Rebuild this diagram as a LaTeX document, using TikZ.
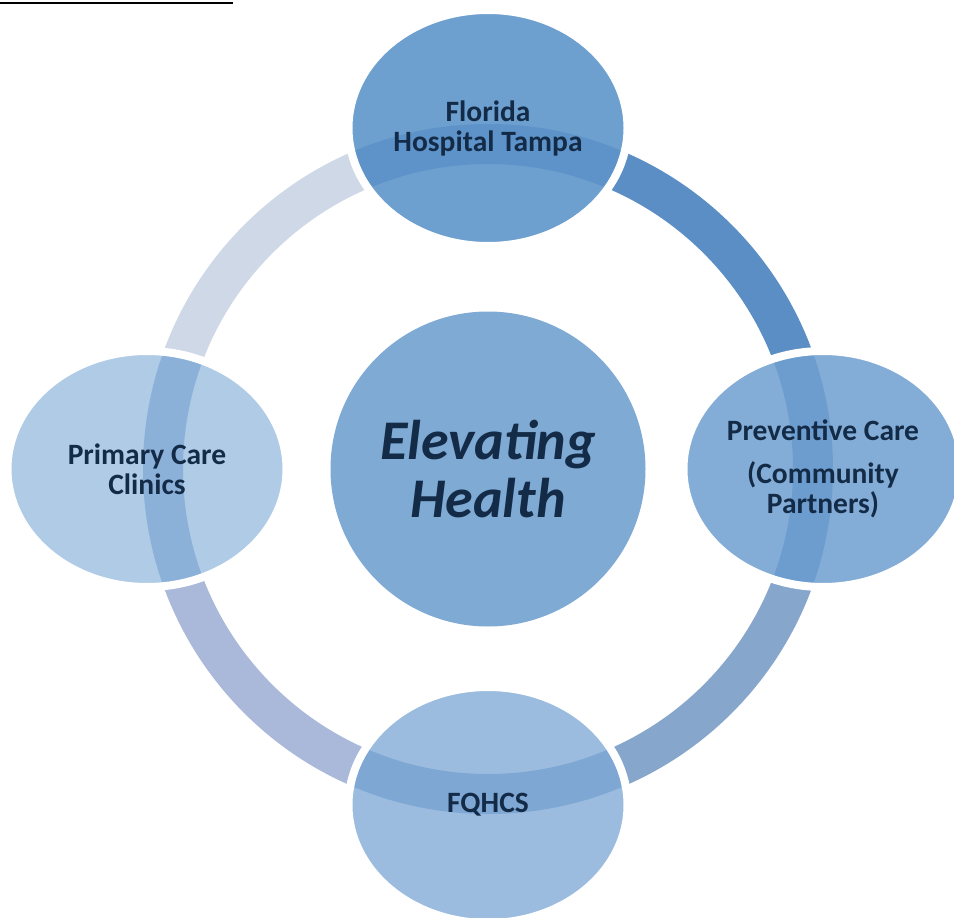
\documentclass[tikz,border=0pt]{standalone}
\usepackage{fontspec}
\setmainfont{Carlito}
\usetikzlibrary{positioning,shapes.geometric}

\definecolor{navytext}{HTML}{132B47}
\definecolor{hubblue}{HTML}{7FAAD4}
\definecolor{topblue}{HTML}{6D9FCF}
\definecolor{rightblue}{HTML}{83ADD6}
\definecolor{bottomblue}{HTML}{9BBCDE}
\definecolor{leftblue}{HTML}{AFCBE6}
\definecolor{arcTR}{HTML}{5B8EC4}
\definecolor{arcRB}{HTML}{87A6CC}
\definecolor{arcBL}{HTML}{AAB9DA}
\definecolor{arcTL}{HTML}{CFD8E6}
\definecolor{bandtint}{HTML}{3C78BE}

\begin{document}
\begin{tikzpicture}[x=1pt,y=-1pt,on grid,node distance=338pt,
  hub node/.style={circle,fill=hubblue,minimum size=315pt,inner sep=0pt,
  text=navytext,align=center,font=\fontsize{56}{58}\selectfont\bfseries\itshape},
  spoke node/.style={ellipse,draw=white,line width=8pt,minimum width=279pt,
  minimum height=236pt,inner sep=0pt,text=navytext,align=center,
  font=\fontsize{29.5}{30}\selectfont\bfseries,
  path picture={\draw[line width=40pt,draw=bandtint,draw opacity=0.3]
  (ringc) circle[radius=325];}},
  ring/.style={line width=40pt}]

  \useasboundingbox (0,0) rectangle (954,918);

  %heading underline, cut off at the top%
  \draw[line width=1.5pt] (0,3) -- (233,3);

  \coordinate (ringc) at (488,469);

  %ring behind the ellipses%
  \draw[ring,draw=arcTR] (ringc) ++(270:325) arc[start angle=270,end angle=360,radius=325];
  \draw[ring,draw=arcRB] (ringc) ++(0:325) arc[start angle=0,end angle=90,radius=325];
  \draw[ring,draw=arcBL] (ringc) ++(90:325) arc[start angle=90,end angle=180,radius=325];
  \draw[ring,draw=arcTL] (ringc) ++(180:325) arc[start angle=180,end angle=270,radius=325];

  \node[hub node] (EH) at (ringc) {Elevating\\Health};
  \node[spoke node,fill=topblue] (FH) [above=341pt of EH] {Florida\\Hospital Tampa};
  \node[spoke node,fill=rightblue] (PC) [right=335pt of EH] {Preventive Care\\[13pt](Community\\Partners)};
  \node[spoke node,fill=bottomblue] (FQ) [below=336pt of EH] {FQHCS};
  \node[spoke node,fill=leftblue] (PCC) [left=341pt of EH] {Primary Care\\Clinics};

\end{tikzpicture}
\end{document}
